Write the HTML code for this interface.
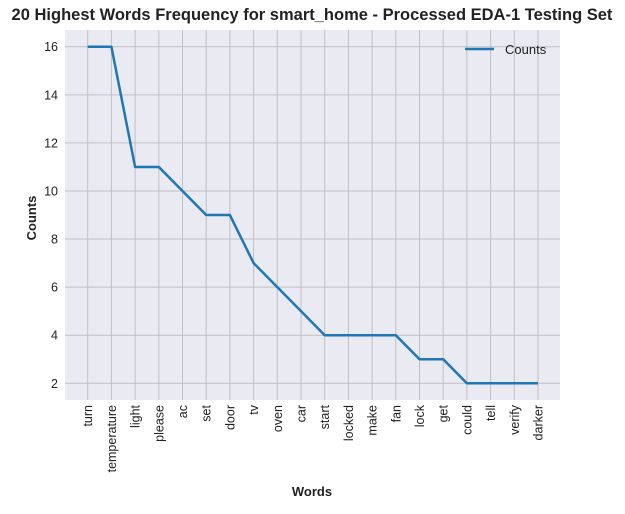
<!DOCTYPE html>
<html><head><meta charset="utf-8"><style>
body{margin:0;background:#fff;}
svg text{font-family:"Liberation Sans",Arial,sans-serif;}
</style></head><body>
<svg id="chart" width="625" height="509" xmlns="http://www.w3.org/2000/svg">
<rect width="625" height="509" fill="#fff"/>
<text x="312" y="20" text-anchor="middle" font-size="16.5" font-weight="bold" fill="#222">20 Highest Words Frequency for smart_home - Processed EDA-1 Testing Set</text>
<rect x="65" y="30" width="495" height="370" fill="#eaeaf2"/>
<g id="grid"></g>
<g id="ticks"></g>
<polyline id="line" fill="none" stroke="#1f77b4" stroke-width="2.5" stroke-linejoin="round"/>
<text transform="translate(36,218) rotate(-90)" text-anchor="middle" font-size="13" font-weight="bold" fill="#222">Counts</text>
<text x="312" y="496" text-anchor="middle" font-size="13" font-weight="bold" fill="#222">Words</text>
<g>
<line x1="465" y1="49" x2="494" y2="49" stroke="#1f77b4" stroke-width="2.5"/>
<text x="505" y="54" font-size="13" fill="#222">Counts</text>
</g>
</svg>
<script>
const categories=["turn","temperature","light","please","ac","set","door","tv","oven","car","start","locked","make","fan","lock","get","could","tell","verify","darker"];
const counts=[16,16,11,11,10,9,9,7,6,5,4,4,4,4,3,3,2,2,2,2];
const yTicks=[2,4,6,8,10,12,14,16];
const NS="http://www.w3.org/2000/svg";
const x=i=>87.7+i*23.7;
const y=v=>383.3-(v-2)*24.04;
const grid=document.getElementById('grid'),ticks=document.getElementById('ticks');
function mk(tag,attrs,parent){const e=document.createElementNS(NS,tag);for(const k in attrs)e.setAttribute(k,attrs[k]);parent.appendChild(e);return e;}
yTicks.forEach(v=>{
 const l=mk('line',{x1:65,x2:560,y1:y(v),y2:y(v),stroke:'#c0c0c0','stroke-width':1},grid);
 
 
 const t=mk('text',{x:58,y:y(v)+4.5,'text-anchor':'end','font-size':12.5,fill:'#222'},ticks);
 t.textContent=v;
 
 
});
categories.forEach((c,i)=>{
 const l=mk('line',{x1:x(i),x2:x(i),y1:30,y2:400,stroke:'#c0c0c0','stroke-width':1},grid);
 
 
 const t=mk('text',{transform:`translate(${x(i)+4.5},405) rotate(-90)`,'text-anchor':'end','font-size':12.5,fill:'#222'},ticks);
 t.textContent=c;
 
 
});
document.getElementById('line').setAttribute('points',counts.map((v,i)=>x(i)+','+y(v)).join(' '));
</script>
</body></html>
